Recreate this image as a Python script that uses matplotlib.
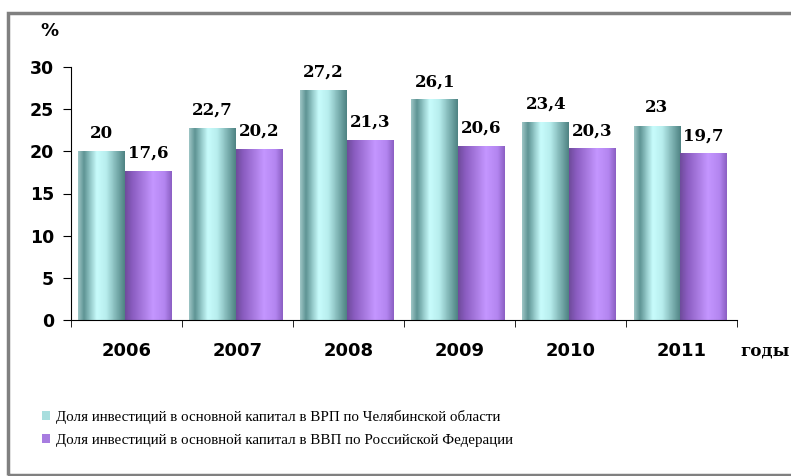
import numpy as np
import matplotlib
matplotlib.use('Agg')
import matplotlib.pyplot as plt
from matplotlib.colors import LinearSegmentedColormap
from matplotlib.patches import Patch, Rectangle

years = ['2006', '2007', '2008', '2009', '2010', '2011']
chel = [20, 22.7, 27.2, 26.1, 23.4, 23]
rf = [17.6, 20.2, 21.3, 20.6, 20.3, 19.7]
chel_lbl = ['20', '22,7', '27,2', '26,1', '23,4', '23']
rf_lbl = ['17,6', '20,2', '21,3', '20,6', '20,3', '19,7']
names = ['Доля инвестиций в основной капитал в ВРП по Челябинской области',
         'Доля инвестиций в основной капитал в ВВП по Российской Федерации']

cm_cyan = LinearSegmentedColormap.from_list('cy', [(0, '#9cc4c4'), (0.12, '#5e9494'), (0.4, '#c8fcfc'),
                                                    (0.6, '#b8eeee'), (1, '#4f8383')])
cm_purp = LinearSegmentedColormap.from_list('pu', [(0, '#6f4c9c'), (0.15, '#8a5cc0'), (0.6, '#c496ff'),
                                                    (0.85, '#b385f0'), (1, '#8c60c4')])

fig = plt.figure(figsize=(7.91, 4.76), dpi=100)
# frame
fig.patches.append(Rectangle((8/791, 0.6/476), 1, 1 - 14/476, transform=fig.transFigure,
                             fill=False, edgecolor='#808080', lw=2.5))
ax = fig.add_axes([70.7/791, 156/476, (737-70.7)/791, 253/476])

x = np.arange(len(years))
w = 0.421
sh = -0.011
b1 = ax.bar(x - w/2 + sh, chel, w, color='none')
b2 = ax.bar(x + w/2 + sh, rf, w, color='none')

grad = np.linspace(0, 1, 64).reshape(1, -1)
for bars, cm in ((b1, cm_cyan), (b2, cm_purp)):
    for p in bars:
        x0, wd, h = p.get_x(), p.get_width(), p.get_height()
        ax.imshow(grad, cmap=cm, aspect='auto', extent=(x0, x0 + wd, 0, h),
                  interpolation='bilinear', zorder=2)

lbl_font = dict(fontsize=12, fontweight='bold', family='DejaVu Serif', ha='center', va='bottom')
for i in range(len(years)):
    ax.text(b1[i].get_x() + b1[i].get_width()/2, chel[i] + 1.15, chel_lbl[i], **lbl_font)
    ax.text(b2[i].get_x() + b2[i].get_width()/2, rf[i] + 1.15, rf_lbl[i], **lbl_font)

ax.set_xlim(-0.5, len(years) - 0.5)
ax.set_ylim(0, 30)
ax.set_yticks(range(0, 31, 5))
ax.set_yticklabels([str(v) for v in range(0, 31, 5)], fontsize=12.5, fontweight='bold')
ax.set_xticks(x)
ax.set_xticklabels(years, fontsize=13, fontweight='bold')
ax.set_xticks(np.arange(-0.5, len(years)), minor=True)
ax.tick_params(axis='x', which='major', length=0, pad=16)
ax.tick_params(axis='x', which='minor', length=5, direction='out')
ax.tick_params(axis='y', length=6, direction='out', pad=6)
for s in ['top', 'right']:
    ax.spines[s].set_visible(False)

fig.text(40/791, 1 - 31/476, '%', fontsize=13, fontweight='bold', va='center')
fig.text(740/791, 1 - 351/476, 'годы', fontsize=12, fontweight='bold', family='DejaVu Serif',
         va='center')

handles = [Patch(facecolor='#a8dede', edgecolor='none'), Patch(facecolor='#a77ce0', edgecolor='none')]
leg = fig.legend(handles, names, loc='upper left', bbox_to_anchor=(28/791, 1 - 396/476), frameon=False,
                 prop={'family': 'Liberation Serif', 'size': 10.8}, handlelength=0.55, handleheight=0.55,
                 handletextpad=0.4, labelspacing=0.7)

fig.savefig('out.png', dpi=100)
